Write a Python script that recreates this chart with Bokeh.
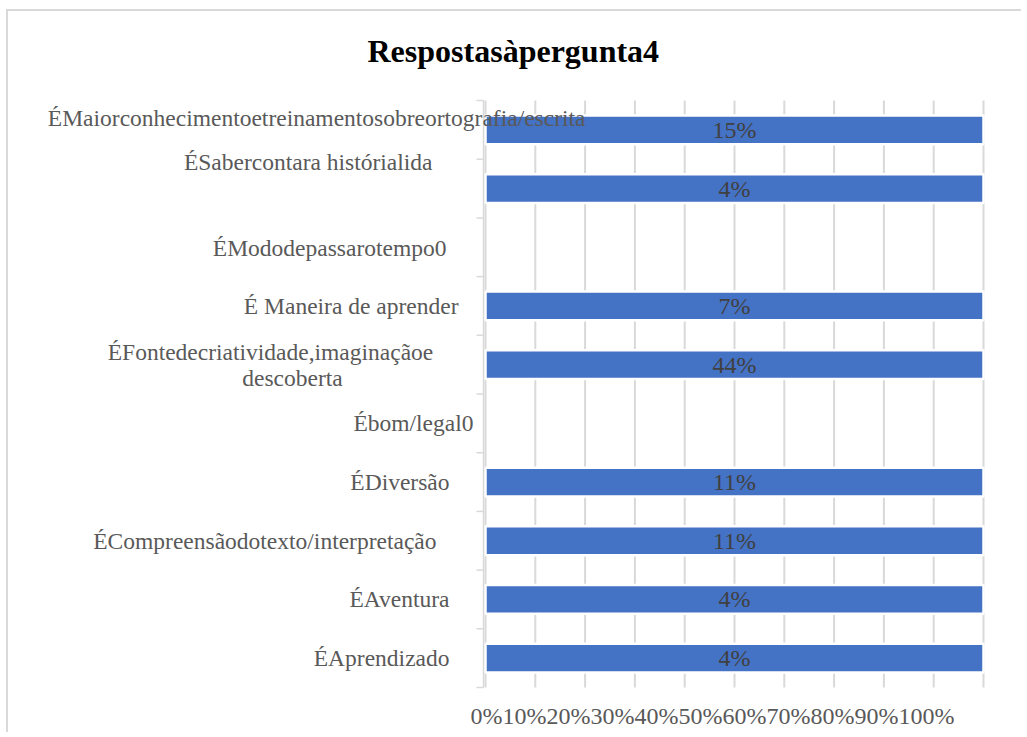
from bokeh.plotting import figure
from bokeh.models import ColumnDataSource, LabelSet, Label, Range1d
from bokeh.core.properties import value
from bokeh.embed import file_html
from bokeh.resources import INLINE

title_text = "Respostasàpergunta4"
categories = [
    "ÉMaiorconhecimentoetreinamentosobreortografia/escrita",
    "ÉSabercontara histórialida",
    "ÉMododepassarotempo0",
    "É Maneira de aprender",
    "ÉFontedecriatividade,imaginaçãoe\ndescoberta",
    "Ébom/legal0",
    "ÉDiversão",
    "ÉCompreensãodotexto/interpretação",
    "ÉAventura",
    "ÉAprendizado",
]
values = [15, 4, 0, 7, 44, 0, 11, 11, 4, 4]
x_ticks = [0, 0.1, 0.2, 0.3, 0.4, 0.5, 0.6, 0.7, 0.8, 0.9, 1.0]
x_tick_labels = ["0%", "10%", "20%", "30%", "40%", "50%", "60%", "70%", "80%", "90%", "100%"]

# label placement (style only, pixels); a pair gives one offset per text line
label_dx = [100, -53, -39, -27, (-215, -193), -12, -36, -49, -36, -36]
label_dy = [12, 27, -1, 0, 0, 0, 0, 0, 0, 0]
label_align = ["right", "right", "right", "right", "center", "right", "right", "right", "right", "right"]
LINE_H = 26

FONT = "Liberation Serif"
GRAY = "#595959"
AXIS_GRAY = "#d9d9d9"
n = len(categories)
ys = [i + 0.5 for i in range(n)]

# layout in pixels: the frame covers the whole canvas, the chart area sits inside it
W, H = 1015, 723
LEFT_PX = 477      # canvas left -> 0%
SCALE_PX = 498     # 0% -> 100%
TOP_PX = 89        # canvas top -> first category boundary
BOTTOM_PX = 47     # last category boundary -> canvas bottom
px = 1.0 / SCALE_PX
band_px = (H - TOP_PX - BOTTOM_PX) / n
x_range = Range1d(-LEFT_PX * px, (W - LEFT_PX) * px)
y_range = Range1d(n + BOTTOM_PX / band_px, -TOP_PX / band_px)   # reversed: first category on top

# 100% stacked: each category has one series, so its share of the category total
shares = [v / v if v else 0.0 for v in values]

bar_src = ColumnDataSource(dict(
    y=[y for y, v in zip(ys, values) if v],
    share=[s for s, v in zip(shares, values) if v],
    mid=[s / 2 for s, v in zip(shares, values) if v],
    txt=[f"{v}%" for v in values if v],
))

lab = dict(y=[], x=[], text=[], dx=[], dy=[], align=[])
for cat, y, dx, dy, al in zip(categories, ys, label_dx, label_dy, label_align):
    lines = cat.split("\n")
    dxs = list(dx) if isinstance(dx, tuple) else [dx] * len(lines)
    for k, line in enumerate(lines):
        lab["y"].append(y)
        lab["x"].append(0)
        lab["text"].append(line)
        lab["dx"].append(dxs[k])
        lab["dy"].append(dy - LINE_H * (k - (len(lines) - 1) / 2))
        lab["align"].append(al)
lab_src = ColumnDataSource(lab)

p = figure(width=W, height=H, output_backend="svg", toolbar_location=None,
           x_range=x_range, y_range=y_range,
           min_border=0, x_axis_location=None, y_axis_location=None)
p.outline_line_color = None
p.background_fill_color = "white"
p.border_fill_color = "white"
p.grid.visible = False

# vertical gridlines over the category band only
p.segment(x0=x_ticks, y0=[0] * len(x_ticks), x1=x_ticks, y1=[n] * len(x_ticks),
          line_color=AXIS_GRAY, line_width=2)

p.hbar(y="y", left=0, right="share", height=0.49, source=bar_src,
       fill_color="#4472C4", line_color="white", line_width=2.5)
p.text(x="mid", y="y", text="txt", source=bar_src, text_align="center",
       text_baseline="middle", text_font=value(FONT), text_font_size="24px",
       text_color="#404040")

# category axis: line and boundary ticks
bounds = list(range(n + 1))
p.segment(x0=[-2 * px], y0=[0], x1=[-2 * px], y1=[n], line_color=AXIS_GRAY, line_width=1.5)
p.segment(x0=[-9 * px] * len(bounds), y0=bounds, x1=[-2 * px] * len(bounds), y1=bounds,
          line_color=AXIS_GRAY, line_width=1.5)

p.add_layout(LabelSet(x="x", y="y", text="text", source=lab_src, x_offset="dx", y_offset="dy",
                      text_align="align", text_baseline="middle", text_font=value(FONT),
                      text_font_size="23.5px", text_color=GRAY))

# value axis labels, set as one run under the chart
p.add_layout(Label(x=x_ticks[0], y=n, text="".join(x_tick_labels), x_offset=-15, y_offset=-28,
                   text_align="left", text_baseline="middle", text_font=FONT,
                   text_font_size="24px", text_color=GRAY))

# title
p.add_layout(Label(x=x_ticks[0], y=0, text=title_text, x_offset=-118, y_offset=50,
                   text_align="left", text_baseline="middle", text_font=FONT,
                   text_font_size="32px", text_font_style="bold", text_color="black"))

p.styles = {"margin-left": "6px", "margin-top": "9px",
            "border-top": "2px solid #d9d9d9", "border-left": "2px solid #d9d9d9"}

open("out.html", "w").write(file_html(p, INLINE))
